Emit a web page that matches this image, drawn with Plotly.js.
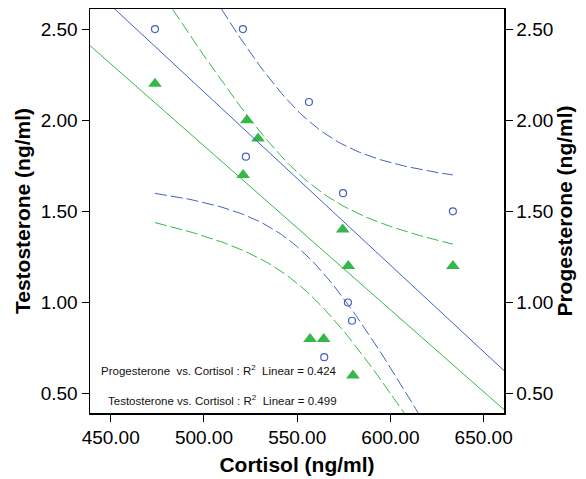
<!DOCTYPE html>
<html>
<head>
<meta charset="utf-8">
<script src="https://cdn.plot.ly/plotly-3.0.1.min.js"></script>
<style>html,body{margin:0;padding:0;background:#fff;}#chart{width:586px;height:479px;}</style>
</head>
<body>
<div id="chart"></div>
<script>
// ---- data ----
const cortisolP    = [473.75, 520.9, 556.3, 522.5, 574.6, 633.5, 577.2, 579.4, 564.5, 529.0];
const progesterone = [2.5, 2.5, 2.1, 1.8, 1.6, 1.5, 1.0, 0.9, 0.7, 1.9];
// last progesterone point lies hidden beneath a testosterone triangle in the reference
const progesteroneShown = [1, 1, 1, 1, 1, 1, 1, 1, 1, 0];
const cortisolT    = [473.75, 523.0, 529.0, 521.0, 574.4, 577.4, 633.5, 556.9, 564.2, 579.9];
const testosterone = [2.2, 2.0, 1.9, 1.7, 1.4, 1.2, 1.2, 0.8, 0.8, 0.6];
const fitLabels = ['Progesterone  vs. Cortisol : R<sup>2</sup>  Linear = 0.424',
                   'Testosterone vs. Cortisol : R<sup>2</sup>  Linear = 0.499'];
const xTicks = [450, 500, 550, 600, 650];
const yTicks = [0.5, 1.0, 1.5, 2.0, 2.5];

const BLUE = '#4560c0', GREEN = '#35b84a';
const FONT = 'Liberation Sans, Arial, sans-serif';
const xRange = [438.9, 660.9], yRange = [0.394, 2.61];

function linfit(x, y) {
  const n = x.length;
  const mx = x.reduce((a,b)=>a+b,0)/n, my = y.reduce((a,b)=>a+b,0)/n;
  let sxx=0, sxy=0, syy=0;
  for (let i=0;i<n;i++){ const dx=x[i]-mx, dy=y[i]-my; sxx+=dx*dx; sxy+=dx*dy; syy+=dy*dy; }
  const b = sxy/sxx, a = my - b*mx;
  const sse = syy - b*sxy;
  const s = Math.sqrt(sse/(n-2));
  return {n, mx, sxx, a, b, s};
}
const T975 = {7: 2.365, 8: 2.306, 9: 2.262};

function fitTraces(x, y, color, yaxis) {
  const f = linfit(x, y);
  const lx = [xRange[0], xRange[1]];
  const ly = lx.map(v => f.a + f.b*v);
  const xmin = Math.min(...x), xmax = Math.max(...x);
  const cx = [], up = [], lo = [];
  const t = T975[f.n-2];
  for (let i=0;i<=80;i++){
    const v = xmin + (xmax-xmin)*i/80;
    const yh = f.a + f.b*v;
    const hw = t*f.s*Math.sqrt(1/f.n + (v-f.mx)*(v-f.mx)/f.sxx);
    cx.push(v); up.push(yh+hw); lo.push(yh-hw);
  }
  const common = {type:'scatter', mode:'lines', yaxis, hoverinfo:'skip', showlegend:false};
  return [
    Object.assign({x: lx, y: ly, line:{color, width:1}}, common),
    Object.assign({x: cx, y: up, line:{color, width:1, dash:'12px,4px'}}, common),
    Object.assign({x: cx, y: lo, line:{color, width:1, dash:'12px,4px'}}, common)
  ];
}

const traces = [].concat(
  fitTraces(cortisolP, progesterone, BLUE, 'y2'),
  fitTraces(cortisolT, testosterone, GREEN, 'y'),
  [{
    type:'scatter', mode:'markers', x: cortisolP, y: progesterone, yaxis:'y2', showlegend:false,
    marker:{symbol:'circle-open', size:7, color:BLUE, opacity: progesteroneShown, line:{width:1.2, color:BLUE}}
  },{
    type:'scatter', mode:'markers', x: cortisolT, y: testosterone, yaxis:'y', showlegend:false,
    marker:{symbol:'triangle-up', size:12, color:GREEN, line:{width:0}}
  }]
);

const tickFont = {family: FONT, size: 19, color: '#000'};
const titleFont = {family: FONT, size: 21, color: '#000', weight: 'bold'};
const yCommon = {
  range: yRange, tickvals: yTicks, tickformat: '.2f', ticks: 'outside', ticklen: 7,
  tickcolor: '#000', tickwidth: 1, showline: true, linecolor: '#000', linewidth: 1.5,
  showgrid: false, zeroline: false, tickfont: tickFont, fixedrange: true
};

const layout = {
  width: 586, height: 479,
  margin: {l: 90, r: 82, t: 9, b: 66},
  paper_bgcolor: '#fff', plot_bgcolor: '#fff',
  font: {family: FONT, color: '#000'},
  showlegend: false,
  xaxis: {
    range: xRange, tickvals: xTicks, tickformat: '.2f', ticks: 'outside', ticklen: 7,
    tickcolor: '#000', showline: true, linecolor: '#000', linewidth: 1.5, mirror: true,
    showgrid: false, zeroline: false, tickfont: tickFont,
    title: {text: 'Cortisol (ng/ml)', font: titleFont, standoff: 10}
  },
  yaxis: Object.assign({}, yCommon, {
    title: {text: 'Testosterone (ng/ml)', font: titleFont, standoff: 4}
  }),
  yaxis2: Object.assign({}, yCommon, {
    overlaying: 'y', side: 'right',
    title: {text: 'Progesterone (ng/ml)', font: titleFont, standoff: 4}
  }),
  annotations: fitLabels.map((txt, i) => ({
    text: txt, xref: 'x', yref: 'y', x: 572.5, y: [0.632, 0.468][i],
    xanchor: 'right', yanchor: 'middle', showarrow: false,
    font: {family: FONT, size: 11.5, color: '#111'}
  }))
};

Plotly.newPlot('chart', traces, layout, {staticPlot: true, displayModeBar: false});
</script>
</body>
</html>
